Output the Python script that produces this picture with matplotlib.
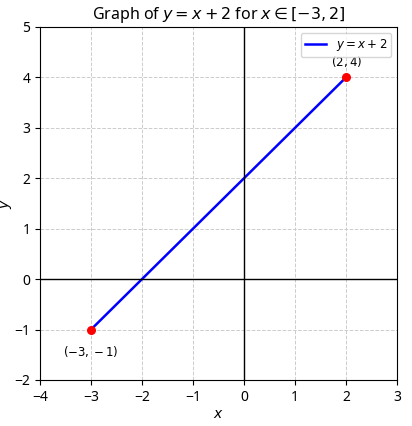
import numpy as np
import matplotlib.pyplot as plt

plt.rcParams['font.family'] = ['Noto Sans', 'DejaVu Sans']

x_line = [-3, 2]
y_line = [-1, 4]
pts_x = [-3, 2]
pts_y = [-1, 4]
pt_labels = ['$(-3, -1)$', '$(2, 4)$']

fig, ax = plt.subplots(figsize=(4.12, 4.26), dpi=100)
ax.plot(x_line, y_line, color='blue', lw=1.8, label='$y = x + 2$')
ax.scatter(pts_x, pts_y, color='red', s=30, zorder=3)
ax.annotate(pt_labels[0], (pts_x[0], pts_y[0]), textcoords='offset points',
            xytext=(0, -19), ha='center', fontsize=8.5)
ax.annotate(pt_labels[1], (pts_x[1], pts_y[1]), textcoords='offset points',
            xytext=(0, 8), ha='center', fontsize=8.5)
ax.axhline(0, color='black', lw=1)
ax.axvline(0, color='black', lw=1)
ax.set_xlim(-4, 3)
ax.set_ylim(-2, 5)
ax.grid(True, linestyle='--', color='#cccccc', lw=0.7)
ax.set_xlabel('$x$', labelpad=2)
ax.set_ylabel('$y$')
ax.yaxis.set_label_coords(-0.072, 0.5)
ax.set_title('Graph of $y = x + 2$ for $x \\in [-3, 2]$', fontsize=11.5)
ax.legend(loc='upper right', fontsize=8.5, borderpad=0.35, handlelength=1.8)
fig.subplots_adjust(left=0.097, right=0.964, top=0.937, bottom=0.108)
fig.savefig('out.png')
